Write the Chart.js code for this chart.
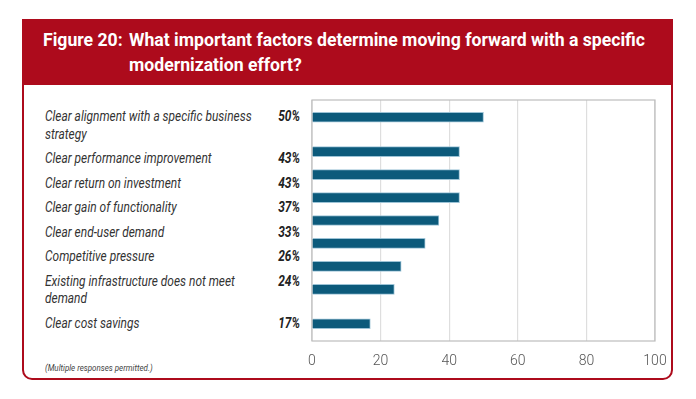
<!DOCTYPE html>
<html>
<head>
<meta charset="utf-8">
<script src="https://cdn.jsdelivr.net/npm/chart.js@4.4.1/dist/chart.umd.min.js"></script>
<style>
  html, body { margin: 0; padding: 0; background: #fff; }
  body { width: 696px; height: 399px; position: relative; overflow: hidden; font-family: Roboto, "Liberation Sans", sans-serif; }
  #frame { position: absolute; left: 22px; top: 19px; width: 647px; height: 357px;
           border: 2.5px solid #ad0b1c; border-radius: 0 0 10px 10px; }
  #head { position: absolute; left: 0; top: 0; right: 0; height: 64px; background: #ad0b1c; }
  #title { position: absolute; left: 43px; top: 28px; color: #fff; font-weight: bold; font-size: 17.5px;
           line-height: 25px; white-space: nowrap; transform-origin: 0 0; }
  #title .fig { display: inline-block; vertical-align: top; }
  #title .rest { display: inline-block; vertical-align: top; }
  #labels { position: absolute; left: 45px; top: 108px; color: #333; font-size: 14px; line-height: 17.5px;
            font-style: italic; transform-origin: 0 0; }
  #labels .row { display: flex; justify-content: space-between; margin-bottom: 7px; }
  #labels .txt { white-space: pre-line; }
  #labels .pct { font-weight: bold; color: #222; }
  #note { position: absolute; left: 45px; top: 362px; font-size: 9.5px; font-style: italic; color: #444;
          white-space: nowrap; transform-origin: 0 0; }
  #c { position: absolute; left: 0; top: 0; }
</style>
</head>
<body>
<div id="frame"><div id="head"></div></div>
<div id="title"><span class="fig">Figure 20:</span><span class="rest"><span id="line1">What important factors determine moving forward with a specific</span><br>modernization effort?</span></div>
<div id="labels"></div>
<div id="note">(Multiple responses permitted.)</div>
<canvas id="c" width="696" height="399"></canvas>
<script>
// text rows on the left
var factors = [
  "Clear alignment with a specific business\nstrategy",
  "Clear performance improvement",
  "Clear return on investment",
  "Clear gain of functionality",
  "Clear end-user demand",
  "Competitive pressure",
  "Existing infrastructure does not meet\ndemand",
  "Clear cost savings"
]
var shares = ["50%", "43%", "43%", "37%", "33%", "26%", "24%", "17%"]

// bars as drawn in the figure (one more bar than text rows)
var barValues = [50, 43, 43, 43, 37, 33, 26, 24, 17]
var barRows = [1.5, 4.5, 6.5, 8.5, 10.5, 12.5, 14.5, 16.5, 19.5]
var xTicks = [0, 20, 40, 60, 80, 100]

// the source uses a condensed face, so squeeze a normal one to the same widths
var title = document.getElementById("title")
var fig = title.querySelector(".fig")
var line1 = document.getElementById("line1")
var k1 = 516 / line1.offsetWidth
fig.style.width = (86 / k1) + "px"
title.style.transform = "scaleX(" + k1 + ")"

var box = document.getElementById("labels")
factors.forEach(function(f, i){
  var row = document.createElement("div")
  row.className = "row"
  row.innerHTML = '<span class="txt">' + f + '</span><span class="pct">' + shares[i] + '</span>'
  box.appendChild(row)
})
var probe = document.createElement("span")
probe.style.cssText = "position:absolute;visibility:hidden;white-space:nowrap;font:italic 14px Roboto"
probe.textContent = "Clear alignment with a specific business"
document.body.appendChild(probe)
var k2 = 207 / probe.offsetWidth
box.style.width = (255 / k2) + "px"
box.style.transform = "scaleX(" + k2 + ")"
var note = document.getElementById("note")
note.style.transform = "scaleX(" + (108 / note.offsetWidth) + ")"

var points = barValues.map(function(v, i){ return {x: v, y: barRows[i]} })

// frame round the plot area
var plotFrame = {
  id: "plotFrame",
  beforeDatasetsDraw: function(chart){
    var a = chart.chartArea, ctx = chart.ctx
    ctx.save()
    ctx.strokeStyle = "#bdbdbd"
    ctx.lineWidth = 1.2
    ctx.strokeRect(a.left, a.top, a.right - a.left, a.bottom - a.top)
    ctx.restore()
  }
}

var ctx = document.getElementById("c").getContext("2d")
var chart = new Chart(ctx, {
  type: "bar",
  data: {
    datasets: [{
      data: points,
      backgroundColor: "#0c5a7b",
      borderColor: "#9cc3d6",
      borderWidth: {top: 1, bottom: 1, right: 1, left: 0},
      barThickness: 10
    }]
  },
  options: {
    indexAxis: "y",
    responsive: false,
    animation: false,
    layout: { padding: { left: 312, top: 100, right: 41, bottom: 18 } },
    plugins: { legend: { display: false }, tooltip: { enabled: false } },
    scales: {
      y: { type: "linear", min: 0, max: 21, reverse: true, offset: false, display: false },
      x: {
        min: 0, max: 100,
        afterBuildTicks: function(s){ s.ticks = xTicks.map(function(v){ return {value: v} }) },
        afterFit: function(s){ s.height = 40 },
        grid: { color: "#dedede", lineWidth: 1.2, drawTicks: false },
        border: { display: false },
        ticks: { color: "#555", padding: 12, font: { family: "Roboto, sans-serif", size: 14, weight: "300" } }
      }
    }
  },
  plugins: [plotFrame]
})
</script>
</body>
</html>
